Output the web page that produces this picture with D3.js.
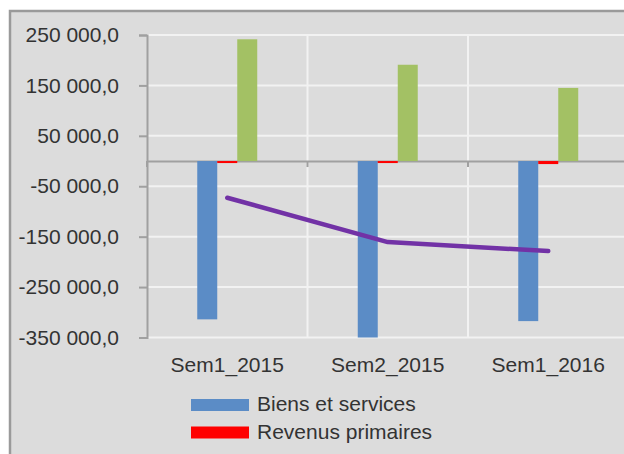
<!DOCTYPE html>
<html>
<head>
<meta charset="utf-8">
<script src="https://d3js.org/d3.v7.min.js"></script>
<style>
    body { margin: 0; background: #ffffff; }
    text { font-family: "Liberation Sans", Arial, sans-serif; fill: #333333; }
</style>
</head>
<body>
<script>
// Chart data
var categories = ["Sem1_2015", "Sem2_2015", "Sem1_2016"];
var barSeries = ["Biens et services", "Revenus primaires", "Transferts courants"];
var biens = [-314000, -356000, -317500];
var revenus = [-4000, -4000, -6000];
var transferts = [241500, 191000, 145000];
var lineSeries = "Solde courant";
var solde = [-72800, -160700, -178600];
var yTicks = [250000, 150000, 50000, -50000, -150000, -250000, -350000];

var w = 624, h = 454;
var colors = ["#5b8cc6", "#ff0000", "#a3c164", "#7232a6"];

var svg = d3.select("body")
    .append("svg")
    .attr("width", w)
    .attr("height", h);

// Chart area background + border (right/bottom fall outside the picture)
svg.append("rect")
    .attr("x", 10)
    .attr("y", 11)
    .attr("width", 640)
    .attr("height", 470)
    .style("fill", "#dcdcdc")
    .style("stroke", "#9a9a9a")
    .style("stroke-width", 2.5);

var plotLeft = 147, plotRight = 628.5;

var x = d3.scaleBand()
    .domain(categories)
    .range([plotLeft, plotRight])
    .padding(0);

var y = d3.scaleLinear()
    .domain([-350000, 250000])
    .range([337.5, 35]);

// Offsets of the three bars in a group
var inner = d3.scaleBand()
    .domain(barSeries)
    .range([-30, 30]);

var plot = svg.append("g");

svg.append("clipPath")
    .attr("id", "plotClip")
    .append("rect")
    .attr("x", plotLeft)
    .attr("y", y(250000))
    .attr("width", plotRight - plotLeft)
    .attr("height", y(-350000) - y(250000));

// Horizontal gridlines
plot.selectAll(".hgrid")
    .data(yTicks)
    .enter()
    .append("line")
    .attr("x1", plotLeft)
    .attr("x2", plotRight)
    .attr("y1", function(d){ return y(d); })
    .attr("y2", function(d){ return y(d); })
    .style("stroke", "#f2f2f2")
    .style("stroke-width", 2);

// Vertical gridlines at category boundaries
plot.selectAll(".vgrid")
    .data(categories.slice(1))
    .enter()
    .append("line")
    .attr("x1", function(d){ return x(d); })
    .attr("x2", function(d){ return x(d); })
    .attr("y1", y(250000))
    .attr("y2", y(-350000))
    .style("stroke", "#f2f2f2")
    .style("stroke-width", 2);

// X axis at zero (drawn under the bars)
var xAxis = d3.axisBottom(x)
    .tickSize(0)
    .tickFormat("");
var xg = plot.append("g")
    .attr("transform", "translate(0," + y(0) + ")")
    .call(xAxis);
xg.select(".domain").style("stroke", "#a0a0a0").style("stroke-width", 2);

// Boundary ticks on the zero line
xg.selectAll(".bound")
    .data(categories)
    .enter()
    .append("line")
    .attr("x1", function(d){ return x(d); })
    .attr("x2", function(d){ return x(d); })
    .attr("y1", 0)
    .attr("y2", 6)
    .style("stroke", "#a0a0a0")
    .style("stroke-width", 2);

// Bars
var barData = [];
categories.forEach(function(c, i){
    barData.push({ cat: c, s: barSeries[0], v: biens[i], k: 0 });
    barData.push({ cat: c, s: barSeries[1], v: revenus[i], k: 1 });
    barData.push({ cat: c, s: barSeries[2], v: transferts[i], k: 2 });
});

plot.append("g")
    .attr("clip-path", "url(#plotClip)")
    .selectAll("rect")
    .data(barData)
    .enter()
    .append("rect")
    .attr("x", function(d){ return x(d.cat) + x.bandwidth() / 2 + inner(d.s); })
    .attr("width", inner.bandwidth())
    .attr("y", function(d){ return y(Math.max(0, d.v)); })
    .attr("height", function(d){ return Math.abs(y(d.v) - y(0)); })
    .style("fill", function(d){ return colors[d.k]; });

// Y axis
var yAxis = d3.axisLeft(y)
    .tickValues(yTicks)
    .tickSize(8)
    .tickPadding(20)
    .tickFormat(function(d){
        return d3.format(",.1f")(d).replace(/,/g, " ").replace(".", ",").replace("−", "-");
    });

var yg = svg.append("g")
    .attr("transform", "translate(" + plotLeft + ",0)")
    .call(yAxis);
yg.select(".domain").style("stroke", "#a0a0a0").style("stroke-width", 2);
yg.selectAll(".tick line").style("stroke", "#a0a0a0").style("stroke-width", 2);
yg.selectAll(".tick text")
    .style("font-size", "21px")
    .style("fill", "#333333");

// Category labels under the plot
svg.selectAll(".catLabel")
    .data(categories)
    .enter()
    .append("text")
    .attr("class", "catLabel")
    .attr("text-anchor", "middle")
    .attr("x", function(d){ return x(d) + x.bandwidth() / 2; })
    .attr("y", 372)
    .style("font-size", "21px")
    .text(function(d){ return d; });

// Line series
var line = d3.line()
    .x(function(d, i){ return x(categories[i]) + x.bandwidth() / 2; })
    .y(function(d){ return y(d); });

svg.append("path")
    .datum(solde)
    .attr("d", line)
    .style("fill", "none")
    .style("stroke", colors[3])
    .style("stroke-width", 4.5)
    .style("stroke-linecap", "round")
    .style("stroke-linejoin", "round");

// Legend: only the first two entries are visible in the picture
var legend = svg.selectAll(".legend")
    .data(barSeries.slice(0, 2))
    .enter()
    .append("g")
    .attr("class", "legend")
    .attr("transform", function(d, i){ return "translate(191," + (405 + i * 27.5) + ")"; });

legend.append("rect")
    .attr("x", 0)
    .attr("y", -6)
    .attr("width", 58)
    .attr("height", 12)
    .style("fill", function(d, i){ return colors[i]; });

legend.append("text")
    .attr("x", 66)
    .attr("y", 6)
    .style("font-size", "21px")
    .text(function(d){ return d; });
</script>
</body>
</html>
